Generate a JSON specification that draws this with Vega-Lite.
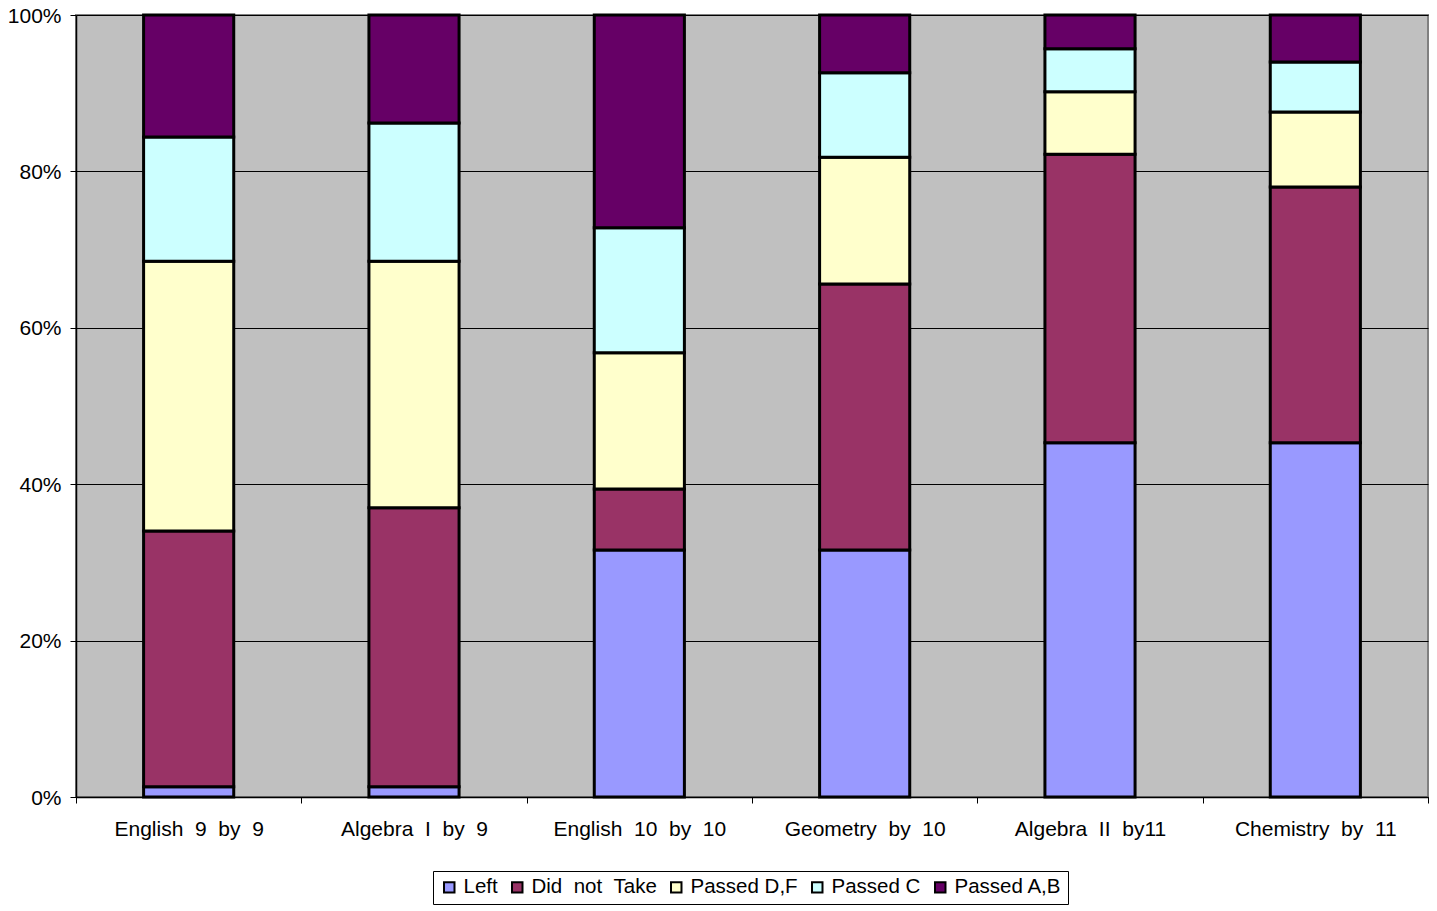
{
  "$schema": "https://vega.github.io/schema/vega-lite/v6.json",
  "width": 1352,
  "height": 782,
  "autosize": {"type": "none"},
  "padding": {"left": 76, "top": 15, "right": 9, "bottom": 114},
  "background": "white",
  "config": {
    "font": "Liberation Sans",
    "view": {"fill": "#C0C0C0", "stroke": "#808080", "strokeWidth": 2}
  },
  "data": {
    "values": [
      {"course": "English 9 by 9", "status": "Left", "rank": 1, "pct": 1.3},
      {"course": "English 9 by 9", "status": "Did not Take", "rank": 2, "pct": 32.7},
      {"course": "English 9 by 9", "status": "Passed D,F", "rank": 3, "pct": 34.5},
      {"course": "English 9 by 9", "status": "Passed C", "rank": 4, "pct": 15.9},
      {"course": "English 9 by 9", "status": "Passed A,B", "rank": 5, "pct": 15.6},
      {"course": "Algebra I by 9", "status": "Left", "rank": 1, "pct": 1.3},
      {"course": "Algebra I by 9", "status": "Did not Take", "rank": 2, "pct": 35.7},
      {"course": "Algebra I by 9", "status": "Passed D,F", "rank": 3, "pct": 31.5},
      {"course": "Algebra I by 9", "status": "Passed C", "rank": 4, "pct": 17.7},
      {"course": "Algebra I by 9", "status": "Passed A,B", "rank": 5, "pct": 13.8},
      {"course": "English 10 by 10", "status": "Left", "rank": 1, "pct": 31.6},
      {"course": "English 10 by 10", "status": "Did not Take", "rank": 2, "pct": 7.8},
      {"course": "English 10 by 10", "status": "Passed D,F", "rank": 3, "pct": 17.4},
      {"course": "English 10 by 10", "status": "Passed C", "rank": 4, "pct": 16.0},
      {"course": "English 10 by 10", "status": "Passed A,B", "rank": 5, "pct": 27.2},
      {"course": "Geometry by 10", "status": "Left", "rank": 1, "pct": 31.6},
      {"course": "Geometry by 10", "status": "Did not Take", "rank": 2, "pct": 34.0},
      {"course": "Geometry by 10", "status": "Passed D,F", "rank": 3, "pct": 16.2},
      {"course": "Geometry by 10", "status": "Passed C", "rank": 4, "pct": 10.8},
      {"course": "Geometry by 10", "status": "Passed A,B", "rank": 5, "pct": 7.4},
      {"course": "Algebra II by11", "status": "Left", "rank": 1, "pct": 45.3},
      {"course": "Algebra II by11", "status": "Did not Take", "rank": 2, "pct": 36.9},
      {"course": "Algebra II by11", "status": "Passed D,F", "rank": 3, "pct": 8.0},
      {"course": "Algebra II by11", "status": "Passed C", "rank": 4, "pct": 5.5},
      {"course": "Algebra II by11", "status": "Passed A,B", "rank": 5, "pct": 4.3},
      {"course": "Chemistry by 11", "status": "Left", "rank": 1, "pct": 45.3},
      {"course": "Chemistry by 11", "status": "Did not Take", "rank": 2, "pct": 32.7},
      {"course": "Chemistry by 11", "status": "Passed D,F", "rank": 3, "pct": 9.6},
      {"course": "Chemistry by 11", "status": "Passed C", "rank": 4, "pct": 6.4},
      {"course": "Chemistry by 11", "status": "Passed A,B", "rank": 5, "pct": 6.0}
    ]
  },
  "mark": {"type": "bar", "stroke": "black", "strokeWidth": 3, "width": {"band": 0.4}},
  "encoding": {
    "x": {
      "field": "course",
      "type": "nominal",
      "sort": null,
      "scale": {"paddingInner": 0, "paddingOuter": 0},
      "axis": {
        "title": null,
        "labelAngle": 0,
        "labelFontSize": 21,
        "labelColor": "black",
        "labelPadding": 15,
        "labelExpr": "join(split(datum.label, ' '), '\u00a0\u00a0')",
        "tickBand": "extent",
        "tickSize": 6,
        "tickColor": "black",
        "domainColor": "black",
        "domainWidth": 1.5,
        "grid": false
      }
    },
    "y": {
      "field": "pct",
      "type": "quantitative",
      "stack": "normalize",
      "axis": {
        "title": null,
        "format": ".0%",
        "values": [0, 0.2, 0.4, 0.6, 0.8, 1],
        "labelFontSize": 21,
        "labelColor": "black",
        "labelPadding": 9,
        "labelOffset": 1,
        "tickSize": 6,
        "tickColor": "black",
        "domainColor": "black",
        "domainWidth": 1.5,
        "grid": true,
        "gridColor": "black",
        "gridWidth": 1,
        "gridOpacity": 1
      }
    },
    "color": {
      "field": "status",
      "type": "nominal",
      "scale": {
        "domain": ["Left", "Did not Take", "Passed D,F", "Passed C", "Passed A,B"],
        "range": ["#9999FF", "#993366", "#FFFFCC", "#CCFFFF", "#660066"]
      },
      "legend": {
        "title": null,
        "orient": "none",
        "direction": "horizontal",
        "legendX": 357,
        "legendY": 856,
        "padding": 6,
        "strokeColor": "black",
        "symbolType": "square",
        "symbolSize": 110,
        "symbolStrokeColor": "black",
        "symbolStrokeWidth": 2,
        "labelFontSize": 20.5,
        "labelColor": "black",
        "labelOffset": 4,
        "labelExpr": "datum.label == 'Did not Take' ? join(split(datum.label, ' '), '\u00a0\u00a0') : datum.label",
        "columnPadding": 9
      }
    },
    "order": {"field": "rank", "type": "quantitative"}
  }
}
